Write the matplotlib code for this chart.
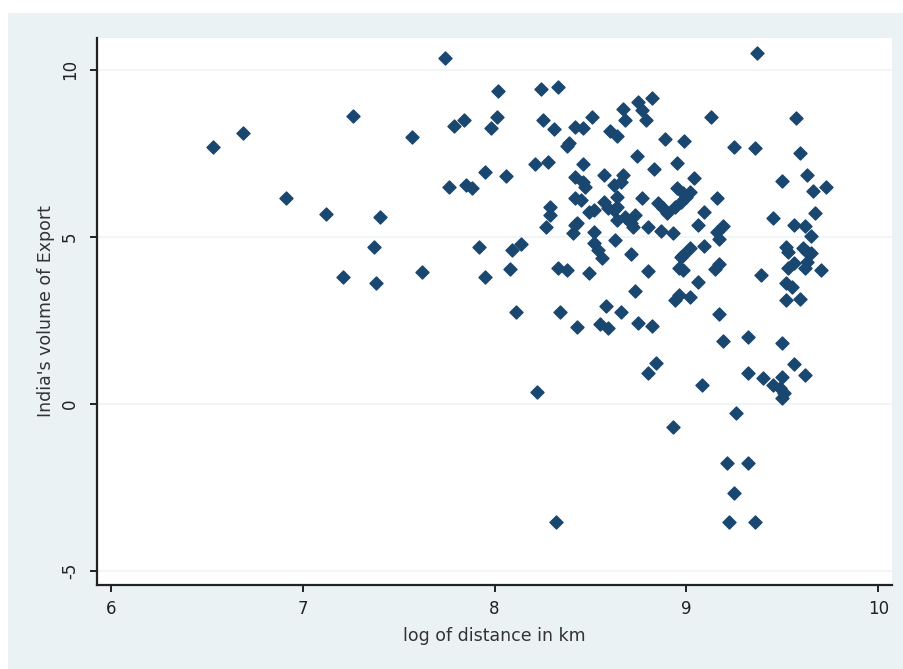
import matplotlib
matplotlib.use("Agg")
import matplotlib.pyplot as plt
from matplotlib.patches import Rectangle

log_distance = [
    6.53, 6.69, 7.26, 7.57, 6.91, 7.12, 7.40, 7.37, 7.21, 7.38, 7.62, 7.74, 9.37,
    8.02, 8.24, 8.33, 7.79, 7.84, 8.01, 7.98, 8.25, 8.31, 8.42, 8.46, 8.38, 8.39,
    8.21, 8.28, 7.95, 8.06, 7.76, 7.85, 7.88, 8.42, 8.42, 8.29, 8.29, 8.27, 8.42, 8.41,
    8.82, 8.75, 8.77, 8.79, 8.67, 8.68, 8.51, 8.60, 8.64, 9.13, 8.89, 8.99, 8.74,
    8.46, 8.83, 8.95, 8.46, 8.47, 8.57, 8.67, 8.66, 8.62, 9.04, 8.95, 8.98, 9.00,
    9.02, 9.16, 8.77, 8.64, 8.45, 8.57, 8.59, 8.62, 8.64, 8.49, 8.52, 8.85, 8.88,
    8.90, 8.94, 8.97, 9.09, 8.64, 8.68, 8.71, 8.73, 8.72, 8.43, 8.52, 8.80, 8.87,
    8.93, 9.06,
    9.57, 9.25, 9.36, 9.59, 9.50, 9.63, 9.66, 9.73, 9.67, 9.45, 9.56, 9.62, 9.65,
    9.16, 9.19, 9.17, 9.02, 9.09, 8.98, 9.52, 9.53, 9.61, 9.63, 9.65, 9.63, 9.62,
    9.56, 9.53, 9.70, 8.98, 9.15, 9.17, 9.39, 9.06, 9.52, 9.55, 9.52, 9.59, 9.17,
    9.19, 9.32, 9.50, 9.56, 9.32, 9.62, 9.40, 9.45, 9.49, 9.50, 9.51, 9.50, 9.08,
    9.26,
    8.93, 9.21, 9.32, 9.25, 8.32, 9.22, 9.36,
    7.92, 8.09, 8.14, 8.08, 7.95, 8.33, 8.38, 8.11, 8.34, 8.43, 8.22,
    8.52, 8.54, 8.56, 8.63, 8.71, 8.49, 8.80, 8.73, 8.58, 8.66, 8.55, 8.59, 8.75,
    8.82, 8.84, 8.80, 8.97, 8.96, 8.94, 8.96, 9.02,
]
export_volume = [
    7.69, 8.11, 8.62, 7.99, 6.17, 5.69, 5.60, 4.70, 3.80, 3.62, 3.95, 10.36, 10.51,
    9.37, 9.43, 9.49, 8.32, 8.50, 8.59, 8.26, 8.50, 8.23, 8.28, 8.26, 7.72, 7.81,
    7.19, 7.25, 6.95, 6.83, 6.50, 6.56, 6.47, 6.80, 6.17, 5.90, 5.66, 5.30, 5.36, 5.12,
    9.16, 9.04, 8.80, 8.50, 8.83, 8.50, 8.59, 8.17, 8.02, 8.59, 7.93, 7.87, 7.43,
    7.19, 7.04, 7.22, 6.65, 6.50, 6.86, 6.86, 6.65, 6.56, 6.77, 6.47, 6.32, 6.20,
    6.35, 6.17, 6.17, 6.20, 6.11, 6.05, 5.87, 5.81, 5.90, 5.75, 5.81, 6.02, 5.87,
    5.72, 5.90, 6.05, 5.75, 5.51, 5.60, 5.42, 5.66, 5.30, 5.42, 5.15, 5.30, 5.18,
    5.12, 5.36,
    8.56, 7.69, 7.66, 7.51, 6.68, 6.86, 6.38, 6.50, 5.72, 5.57, 5.36, 5.33, 5.03,
    5.15, 5.33, 4.92, 4.67, 4.73, 4.46, 4.70, 4.55, 4.67, 4.55, 4.52, 4.25, 4.07,
    4.22, 4.07, 4.01, 4.01, 4.05, 4.20, 3.86, 3.65, 3.62, 3.50, 3.11, 3.14, 2.69,
    1.89, 2.01, 1.83, 1.20, 0.93, 0.87, 0.78, 0.57, 0.48, 0.81, 0.33, 0.18, 0.57,
    -0.27,
    -0.69, -1.77, -1.77, -2.66, -3.53, -3.53, -3.53,
    4.70, 4.61, 4.79, 4.04, 3.80, 4.07, 4.01, 2.75, 2.75, 2.31, 0.36,
    4.82, 4.61, 4.37, 4.91, 4.49, 3.92, 3.98, 3.38, 2.93, 2.75, 2.40, 2.28, 2.43,
    2.34, 1.23, 0.93, 4.40, 4.07, 3.11, 3.26, 3.20,
]
x_ticks = [6, 7, 8, 9, 10]
y_ticks = [-5, 0, 5, 10]

navy = "#1a476f"
bg = "#eaf2f3"

fig = plt.figure(figsize=(9.04, 6.69), dpi=100, facecolor="white")
fig.patches.append(Rectangle((8 / 904, 0), 1, 1 - 13 / 669, transform=fig.transFigure,
                             facecolor=bg, edgecolor="none", zorder=-10))

ax = fig.add_axes([97 / 904, 1 - 585 / 669, (892 - 97) / 904, (585 - 38) / 669])
ax.set_facecolor("white")
ax.scatter(log_distance, export_volume, marker="D", s=44, color=navy,
           edgecolors=navy, linewidths=1.0, zorder=3)

ax.set_xlim(5.927, 10.072)
ax.set_ylim(-5.42, 10.95)
ax.set_xticks(x_ticks)
ax.set_yticks(y_ticks)
ax.set_xticklabels([str(t) for t in x_ticks], fontsize=12, color="#222222")
ax.set_yticklabels([str(t) for t in y_ticks], fontsize=12, color="#222222",
                   rotation=90, va="center")
ax.grid(axis="y", color="#eef4f5", linewidth=1.2, zorder=0)
ax.set_axisbelow(True)

for s in ["top", "right"]:
    ax.spines[s].set_visible(False)
for s in ["left", "bottom"]:
    ax.spines[s].set_color("#222222")
    ax.spines[s].set_linewidth(1.6)
ax.tick_params(axis="both", direction="out", length=5, width=1.4, color="#222222")
ax.tick_params(axis="x", pad=6)
ax.tick_params(axis="y", pad=8)

ax.set_xlabel("log of distance in km", fontsize=12.5, color="#333333", labelpad=6)
ax.set_ylabel("India's volume of Export", fontsize=12.5, color="#333333", labelpad=4)

fig.savefig("out.png", dpi=100, facecolor=fig.get_facecolor())
